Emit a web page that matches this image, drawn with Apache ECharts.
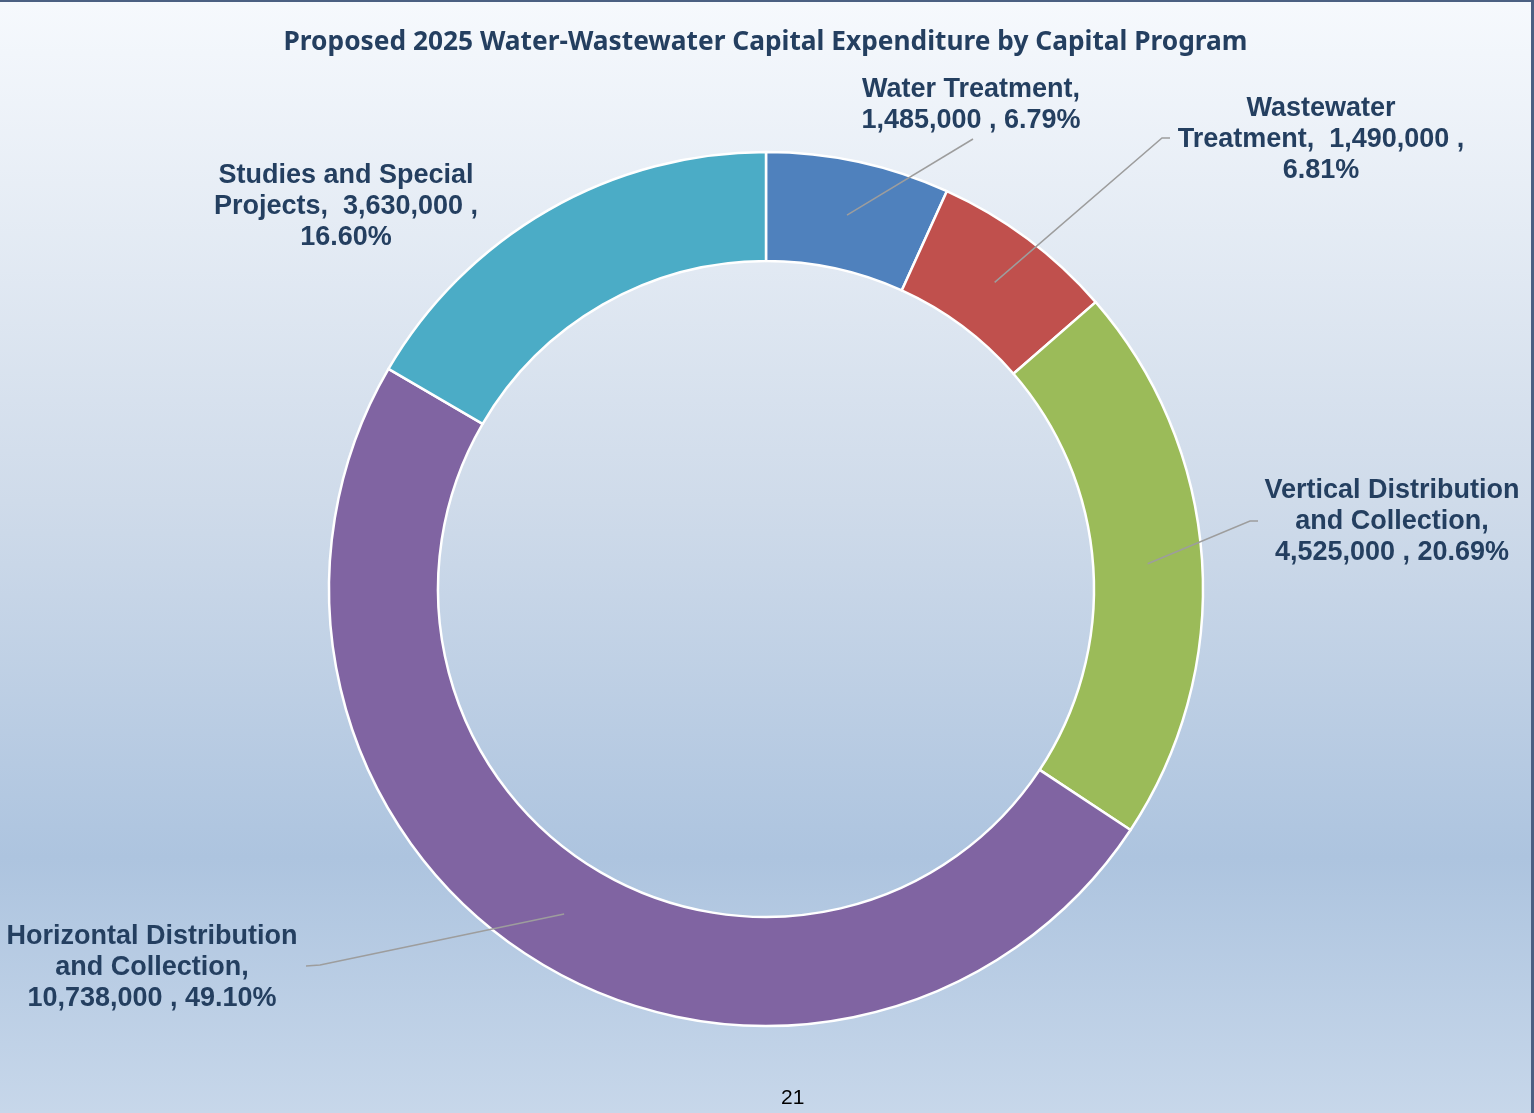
<!DOCTYPE html>
<html>
<head>
<meta charset="utf-8">
<title>Proposed 2025 Water-Wastewater Capital Expenditure</title>
<script src="https://cdn.jsdelivr.net/npm/echarts@6/dist/echarts.min.js"></script>
<style>
  html, body { margin: 0; padding: 0; }
  #main {
    width: 1531px;
    height: 1111px;
    border-top: 2px solid #4b6082;
    border-right: 3px solid #4b6082;
  }
</style>
</head>
<body>
<div id="main"></div>
<script>
  // data
  const programs = [
    'Water Treatment',
    'Wastewater Treatment',
    'Vertical Distribution and Collection',
    'Horizontal Distribution and Collection',
    'Studies and Special Projects'
  ];
  const amounts = [1485000, 1490000, 4525000, 10738000, 3630000];
  const colors = ['#4f81bd', '#c0504d', '#9bbb59', '#8064a2', '#4bacc6'];

  // how Excel wrapped each label ({v} value, {p} percent)
  const labelTemplates = [
    'Water Treatment,\n{v} , {p}',
    'Wastewater\nTreatment,  {v} ,\n{p}',
    'Vertical Distribution\nand Collection,\n{v} , {p}',
    'Horizontal Distribution\nand Collection,\n{v} , {p}',
    'Studies and Special\nProjects,  {v} ,\n{p}'
  ];

  // label block centres and leader line bends (px)
  const labelPos = [[971, 103], [1321, 138], [1392, 520], [152, 966], [346, 205]];
  const lineBend = [
    [[973, 137], [973, 137]],
    [[1162, 136], [1170, 136]],
    [[1250, 519], [1258, 519]],
    [[320, 963], [306, 964]],
    null
  ];

  const cx = 766, cy = 587, rIn = 328, rOut = 437;
  const total = amounts.reduce((a, b) => a + b, 0);

  // mid angle of each slice, clockwise from 12 o'clock
  let acc = 0;
  const midAngles = amounts.map(v => {
    const m = (acc + v / 2) / total * 2 * Math.PI;
    acc += v;
    return m;
  });

  const pieData = programs.map((name, i) => ({name: name, value: amounts[i]}));

  let chart = echarts.init(document.getElementById('main'));
  let option = {
    backgroundColor: {
      type: 'linear', x: 0, y: 0, x2: 0, y2: 1,
      colorStops: [
        {offset: 0, color: '#f6f9fd'},
        {offset: 0.45, color: '#cfdbea'},
        {offset: 0.77, color: '#adc4df'},
        {offset: 1, color: '#c7d7ea'}
      ]
    },
    title: {
      text: 'Proposed 2025 Water-Wastewater Capital Expenditure by Capital Program',
      left: 'center',
      top: 23,
      textStyle: {
        fontFamily: '"Noto Sans", sans-serif',
        fontWeight: 'bold',
        fontSize: 26.3,
        color: '#243f60'
      }
    },
    graphic: [{
      type: 'text',
      left: 781,
      top: 1086,
      style: {text: '21', font: '21px "Liberation Sans", Arial, sans-serif', fill: '#000'}
    }],
    color: colors,
    series: [{
      // the ring itself
      type: 'pie',
      z: 2,
      center: [cx, cy],
      radius: [rIn, rOut],
      startAngle: 90,
      clockwise: true,
      animation: false,
      silent: true,
      itemStyle: {borderColor: '#ffffff', borderWidth: 2.5},
      label: {show: false},
      labelLine: {show: false},
      data: pieData
    }, {
      // transparent copy on top, so leader lines run over the ring
      type: 'pie',
      z: 3,
      center: [cx, cy],
      radius: [rIn, rOut],
      startAngle: 90,
      clockwise: true,
      animation: false,
      silent: true,
      itemStyle: {color: 'rgba(0,0,0,0)', borderWidth: 0},
      label: {
        show: true,
        position: 'outside',
        fontFamily: '"Liberation Sans", Arial, sans-serif',
        fontWeight: 'bold',
        fontSize: 27,
        lineHeight: 31,
        color: '#243f60',
        align: 'center',
        formatter: function (p) {
          const pct = (p.value / total * 100).toFixed(2) + '%';
          return labelTemplates[p.dataIndex]
            .replace('{v}', p.value.toLocaleString('en-US'))
            .replace('{p}', pct);
        }
      },
      labelLine: {
        show: true,
        lineStyle: {color: '#9d9d9d', width: 1.5}
      },
      labelLayout: function (params) {
        const i = params.dataIndex;
        const res = {
          x: labelPos[i][0],
          y: labelPos[i][1],
          align: 'center',
          verticalAlign: 'middle'
        };
        const rMid = (rIn + rOut) / 2;
        const start = [cx + rMid * Math.sin(midAngles[i]), cy - rMid * Math.cos(midAngles[i])];
        if (lineBend[i]) {
          res.labelLinePoints = [start, lineBend[i][0], lineBend[i][1]];
        } else {
          res.labelLinePoints = [start, start, start];
        }
        return res;
      },
      data: pieData
    }]
  };
  chart.setOption(option);
</script>
</body>
</html>
